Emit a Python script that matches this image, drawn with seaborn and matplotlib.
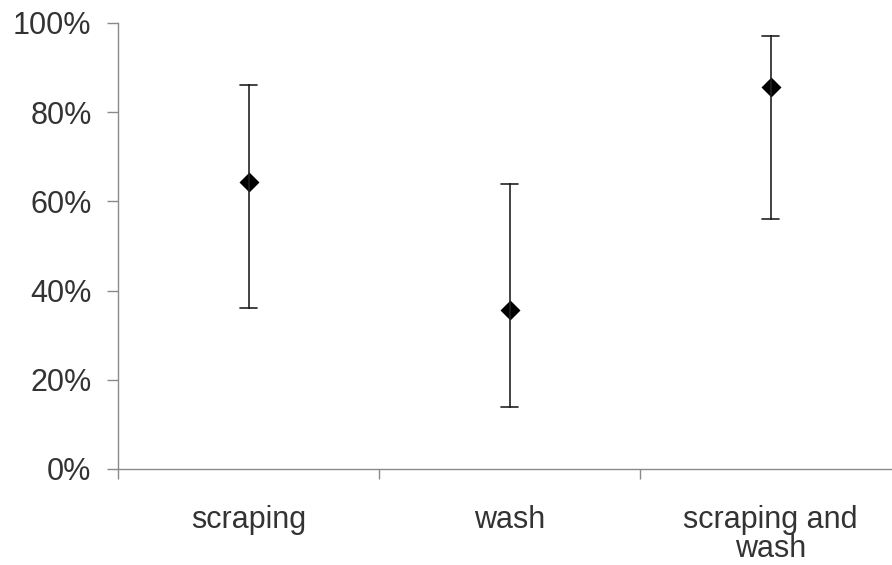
import pandas as pd
import matplotlib
matplotlib.use('Agg')
import matplotlib.pyplot as plt
from matplotlib.ticker import PercentFormatter
import seaborn as sns

methods = ['scraping', 'wash', 'scraping and\nwash']
lower = [0.36, 0.14, 0.56]
central = [0.643, 0.356, 0.857]
upper = [0.86, 0.64, 0.97]

# three rows per method: median = central value, 100% interval = lower..upper
rows = []
for m, lo, mid, hi in zip(methods, lower, central, upper):
    for v in (lo, mid, hi):
        rows.append({'method': m, 'value': v})
df = pd.DataFrame(rows)

sns.set_style('white')
plt.rcParams['font.family'] = ['Liberation Sans', 'DejaVu Sans']

fig = plt.figure(figsize=(8.92, 5.65), dpi=100)
ax = fig.add_axes([118 / 892, 96 / 565, 783 / 892, 446 / 565])

sns.pointplot(data=df, x='method', y='value', order=methods,
              estimator='median', errorbar=('pi', 100),
              linestyle='none', marker='D', color='black',
              markersize=8, capsize=0.065,
              err_kws={'linewidth': 1.2, 'color': '#222222'}, ax=ax)

ax.set_ylim(0, 1)
ax.set_xlim(-0.5, 2.5)
ax.set_yticks([0, 0.2, 0.4, 0.6, 0.8, 1.0])
ax.yaxis.set_major_formatter(PercentFormatter(1.0, decimals=0))
ax.set_xticks([-0.5, 0.5, 1.5])
ax.set_xticks([0, 1, 2], minor=True)
ax.set_xticklabels([])
ax.set_xticklabels(methods, minor=True, linespacing=0.97)
ax.set_xlabel('')
ax.set_ylabel('')

for side in ['top', 'right']:
    ax.spines[side].set_visible(False)
for side in ['left', 'bottom']:
    ax.spines[side].set_color('#8a8a8a')
    ax.spines[side].set_linewidth(1.0)

ax.tick_params(axis='y', which='major', length=8, width=1, color='#8a8a8a',
               labelsize=22, labelcolor='#333333', pad=11, left=True)
ax.tick_params(axis='x', which='major', length=7, width=1, color='#8a8a8a',
               bottom=True)
ax.tick_params(axis='x', which='minor', length=0, labelsize=22,
               labelcolor='#333333', pad=26)
ax.grid(False)

fig.savefig('out.png', dpi=100, facecolor='white')
